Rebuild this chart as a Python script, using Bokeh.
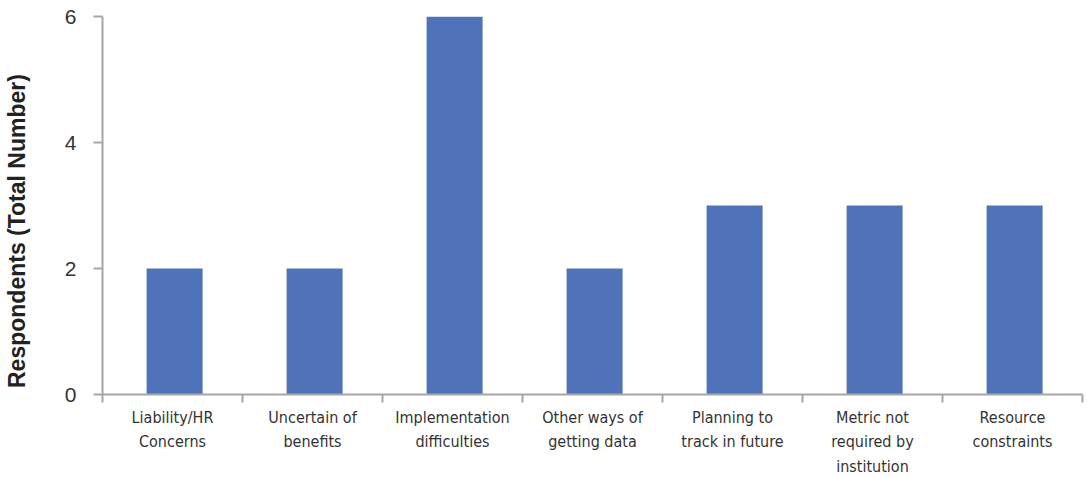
from bokeh.plotting import figure
from bokeh.models import FixedTicker, Range1d
from bokeh.embed import file_html
from bokeh.resources import INLINE

categories = ["Liability/HR\nConcerns", "Uncertain of\nbenefits", "Implementation\ndifficulties",
              "Other ways of\ngetting data", "Planning to\ntrack in future",
              "Metric not\nrequired by\ninstitution", "Resource\nconstraints"]
values = [2, 2, 6, 2, 3, 3, 3]
y_ticks = [0, 2, 4, 6]
y_title = "Respondents (Total Number)"

n = len(categories)
centers = [i + 0.5 for i in range(n)]
bounds = list(range(n + 1))

p = figure(frame_width=980, frame_height=378, output_backend="svg", toolbar_location=None,
           x_range=Range1d(0, n), y_range=Range1d(0, 6),
           min_border_left=102, min_border_right=5, min_border_top=16, min_border_bottom=83)
p.outline_line_color = None
p.grid.grid_line_color = None
p.background_fill_color = "white"

p.vbar(x=[c + 0.015 for c in centers], top=values, width=0.4, color="#4F72B8", line_color=None)

axis_col = "#A6A6A6"
text_col = "#333333"

xa = p.xaxis[0]
xa.ticker = FixedTicker(ticks=centers, minor_ticks=bounds)
xa.major_label_overrides = {c: lab for c, lab in zip(centers, categories)}
xa.major_tick_out = 0
xa.major_tick_in = 0
xa.minor_tick_out = 8
xa.minor_tick_in = 0
xa.minor_tick_line_color = axis_col
xa.minor_tick_line_width = 2
xa.axis_line_color = axis_col
xa.axis_line_width = 2
xa.major_label_standoff = 5
xa.major_label_text_font = "DejaVu Sans Condensed"
xa.major_label_text_font_size = "16px"
xa.major_label_text_line_height = 1.3
xa.major_label_text_color = text_col

ya = p.yaxis[0]
ya.ticker = FixedTicker(ticks=y_ticks)
ya.minor_tick_line_color = None
ya.major_tick_out = 9
ya.major_tick_in = 0
ya.major_tick_line_color = axis_col
ya.major_tick_line_width = 2
ya.axis_line_color = axis_col
ya.axis_line_width = 2
ya.major_label_standoff = 17
ya.major_label_text_font = "Liberation Sans"
ya.major_label_text_font_size = "21px"
ya.major_label_text_color = text_col
# trailing no-break spaces nudge the centred title toward the bottom, as in the source
ya.axis_label = y_title + "\u00a0" * 8
ya.axis_label_text_font = "Liberation Sans"
ya.axis_label_text_font_style = "bold"
ya.axis_label_text_font_size = "23px"
ya.axis_label_text_color = "#222222"
ya.axis_label_standoff = 32

open("out.html", "w").write(file_html(p, INLINE))
